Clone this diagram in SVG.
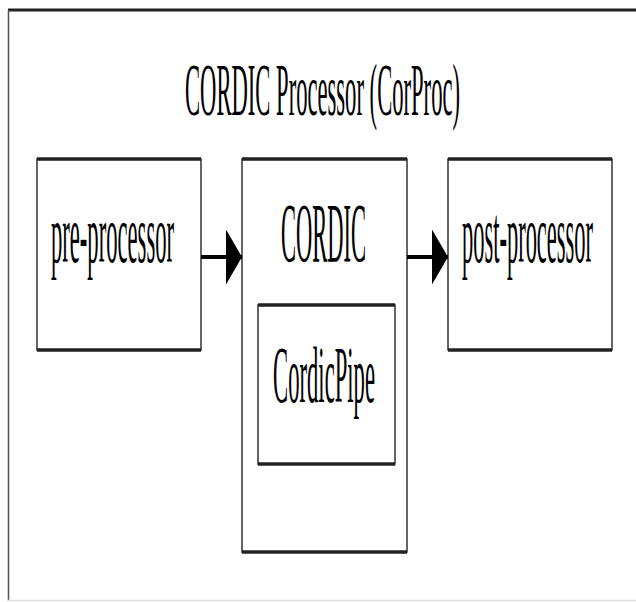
<svg xmlns="http://www.w3.org/2000/svg" width="636" height="602" viewBox="0 0 636 602">
<style>
.box{fill:#fff;stroke:#333;stroke-width:1.5}
.edge{stroke:#222;stroke-width:3.5;fill:none}
.lbl{font-family:"Liberation Serif","Times New Roman",serif;fill:#000;text-anchor:middle}
.wire{stroke:#000;stroke-width:4;fill:none}
</style>
<defs>
<marker id="ah" viewBox="0 0 16 55" refX="16" refY="27.5" markerWidth="16" markerHeight="55" markerUnits="userSpaceOnUse" orient="auto">
<path d="M0,0 L16,27.5 L0,55 Z" fill="#000"/>
</marker>
</defs>
<rect x="0" y="0" width="636" height="602" fill="#fff"/>
<g id="frame">
<line x1="8" y1="10" x2="636" y2="10" stroke="#222" stroke-width="3"/>
<line x1="8.5" y1="10" x2="8.5" y2="601" stroke="#555" stroke-width="1.5"/>
<line x1="8" y1="600.5" x2="636" y2="600.5" stroke="#ddd" stroke-width="1.5"/>
<text class="lbl" transform="translate(322.5,115) scale(0.3015,1)" font-size="75">CORDIC Processor (CorProc)</text>
</g>
<g id="pre-processor">
<rect class="box" x="37" y="159" width="164" height="191"/>
<path class="edge" d="M37,159H201M37,350H201"/>
<text class="lbl" transform="translate(112.5,262) scale(0.276,1)" font-size="82">pre-processor</text>
</g>
<g id="cordic">
<rect class="box" x="242" y="159" width="165" height="393"/>
<path class="edge" d="M242,159H407M242,552H407"/>
<text class="lbl" transform="translate(323.5,262) scale(0.268,1)" font-size="84">CORDIC</text>
</g>
<g id="cordicpipe">
<rect class="box" x="258" y="305" width="137" height="159"/>
<path class="edge" d="M258,305H395M258,464H395"/>
<text class="lbl" transform="translate(324,402) scale(0.283,1)" font-size="80">CordicPipe</text>
</g>
<g id="post-processor">
<rect class="box" x="448" y="159" width="164" height="191"/>
<path class="edge" d="M448,159H612M448,350H612"/>
<text class="lbl" transform="translate(527.5,262) scale(0.274,1)" font-size="82">post-processor</text>
</g>
<g id="connectors">
<line class="wire" x1="201" y1="257" x2="242" y2="257" marker-end="url(#ah)"/>
<line class="wire" x1="407" y1="257" x2="448" y2="257" marker-end="url(#ah)"/>
</g>
</svg>
